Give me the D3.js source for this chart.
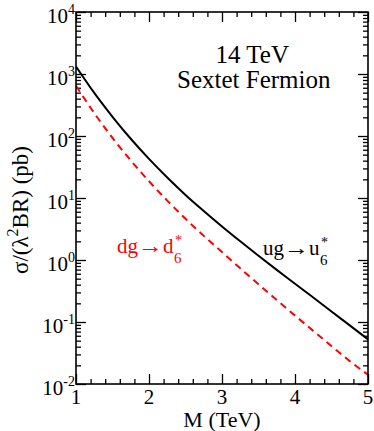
<!DOCTYPE html>
<html>
<head>
<meta charset="utf-8">
<script src="https://cdn.jsdelivr.net/npm/d3@7"></script>
<style>
  body { margin: 0; background: #fff; }
</style>
</head>
<body>
<div id="graph"></div>
<script>
// resonance mass (TeV)
const massTeV = [1.0, 1.25, 1.5, 1.75, 2.0, 2.25, 2.5, 2.75, 3.0,
                 3.25, 3.5, 3.75, 4.0, 4.25, 4.5, 4.75, 5.0];
// sigma/(lambda^2 BR) in pb, ug -> u6*
const sigmaUG = [1320, 495, 204, 90.2, 42.7, 21.4, 11.2, 6.17, 3.47,
                 2.00, 1.17, 0.692, 0.415, 0.248, 0.148, 0.0881, 0.0525];
// sigma/(lambda^2 BR) in pb, dg -> d6*
const sigmaDG = [646, 234, 93.3, 40.3, 18.6, 9.06, 4.62, 2.45, 1.34,
                 0.733, 0.405, 0.226, 0.127, 0.0719, 0.0409, 0.0234, 0.0141];

const xTickValues = [1, 2, 3, 4, 5];
const xMinorValues = [1.2, 1.4, 1.6, 1.8, 2.2, 2.4, 2.6, 2.8, 3.2, 3.4, 3.6, 3.8, 4.2, 4.4, 4.6, 4.8];
const yExponents = [-2, -1, 0, 1, 2, 3, 4];

const W = 374, H = 431;
const m = {top: 12, right: 6, bottom: 47, left: 76};
const serif = '"Liberation Serif", "Times New Roman", Times, "DejaVu Serif", serif';

const svg = d3.select('#graph').append('svg')
  .attr('width', W)
  .attr('height', H)
  .attr('font-family', serif)
  .style('font-family', serif);

const x = d3.scaleLinear()
  .domain([1, 5])
  .range([m.left, W - m.right]);

const y = d3.scaleLog()
  .domain([1e-2, 1e4])
  .range([H - m.bottom, m.top]);

const yMajor = yExponents.map((e) => Math.pow(10, e));
const yMinor = [];
yExponents.slice(0, -1).forEach((e) => {
  for (let k = 2; k <= 9; k++) yMinor.push(k * Math.pow(10, e));
});

// ticks on all four sides, pointing inward
function addTicks(axisFn, scale, values, size, transform) {
  svg.append('g')
    .attr('class', 'ticks')
    .attr('transform', transform)
    .call(axisFn(scale).tickValues(values).tickSize(size).tickFormat(''))
    .call((g) => g.select('.domain').remove())
    .call((g) => g.selectAll('line').attr('stroke', '#000').attr('stroke-width', 1.3));
}

const x0 = m.left, x1 = W - m.right, y0 = H - m.bottom, y1 = m.top;

addTicks(d3.axisBottom, x, xTickValues, -10, `translate(0,${y0})`);
addTicks(d3.axisBottom, x, xMinorValues, -5, `translate(0,${y0})`);
addTicks(d3.axisTop, x, xTickValues, -10, `translate(0,${y1})`);
addTicks(d3.axisTop, x, xMinorValues, -5, `translate(0,${y1})`);
addTicks(d3.axisLeft, y, yMajor, -10, `translate(${x0},0)`);
addTicks(d3.axisLeft, y, yMinor, -5, `translate(${x0},0)`);
addTicks(d3.axisRight, y, yMajor, -10, `translate(${x1},0)`);
addTicks(d3.axisRight, y, yMinor, -5, `translate(${x1},0)`);

// curves
const data = (vals) => massTeV.map((mv, i) => ({m: mv, s: vals[i]}));
const line = d3.line()
  .x((d) => x(d.m))
  .y((d) => y(d.s))
  .curve(d3.curveMonotoneX);

svg.append('clipPath').attr('id', 'plot-clip')
  .append('rect')
  .attr('x', x0).attr('y', y1)
  .attr('width', x1 - x0).attr('height', y0 - y1);

svg.append('path')
  .datum(data(sigmaDG))
  .attr('clip-path', 'url(#plot-clip)')
  .attr('d', line)
  .attr('fill', 'none')
  .attr('stroke', '#ff0000')
  .attr('stroke-width', 2)
  .attr('stroke-dasharray', '7,5');

svg.append('path')
  .datum(data(sigmaUG))
  .attr('clip-path', 'url(#plot-clip)')
  .attr('d', line)
  .attr('fill', 'none')
  .attr('stroke', '#000')
  .attr('stroke-width', 2);

// frame
svg.append('rect')
  .attr('x', x0).attr('y', y1)
  .attr('width', x1 - x0).attr('height', y0 - y1)
  .attr('fill', 'none')
  .attr('stroke', '#000')
  .attr('stroke-width', 1.6);

// x tick labels
svg.append('g').selectAll('text')
  .data(xTickValues)
  .enter().append('text')
  .attr('x', (d) => x(d))
  .attr('y', y0 + 20)
  .attr('text-anchor', 'middle')
  .style('font-size', '21px')
  .text((d) => d);

// y tick labels 10^e
const yLab = svg.append('g').selectAll('text')
  .data(yExponents)
  .enter().append('text')
  .attr('x', x0 - 1)
  .attr('y', (d) => y(Math.pow(10, d)) + 11)
  .attr('text-anchor', 'end')
  .style('font-size', '21px');
yLab.append('tspan').text('10');
yLab.append('tspan')
  .attr('dy', -9)
  .style('font-size', '14px')
  .text((d) => d < 0 ? '-' + (-d) : d);

// axis titles
svg.append('text')
  .attr('x', (x0 + x1) / 2)
  .attr('y', H - 4)
  .attr('text-anchor', 'middle')
  .style('font-size', '22px')
  .text('M (TeV)');

const yTitle = svg.append('text')
  .attr('transform', `translate(28,${(y0 + y1) / 2 + 12}) rotate(-90)`)
  .attr('text-anchor', 'middle')
  .style('font-size', '23px');
yTitle.append('tspan').text('σ/(λ');
yTitle.append('tspan').attr('dy', -10).style('font-size', '16px').text('2');
yTitle.append('tspan').attr('dy', 10).text('BR) (pb)');

// annotation
svg.append('text')
  .attr('x', 289).attr('y', 63)
  .attr('text-anchor', 'end')
  .style('font-size', '25px')
  .text('14 TeV');
svg.append('text')
  .attr('x', 177).attr('y', 88)
  .style('font-size', '25px')
  .text('Sextet Fermion');

function processLabel(xp, yp, initial, final, color) {
  const t = svg.append('text')
    .attr('x', xp).attr('y', yp)
    .style('font-size', '21px')
    .style('fill', color);
  t.append('tspan').text(initial);
  t.append('tspan')
    .attr('textLength', 25)
    .attr('lengthAdjust', 'spacingAndGlyphs')
    .text('→');
  t.append('tspan').text(final);
  const len = t.node().getBBox().width;
  svg.append('text')
    .attr('x', xp + len + 1).attr('y', yp - 8)
    .style('font-size', '14px')
    .style('fill', color)
    .text('*');
  svg.append('text')
    .attr('x', xp + len).attr('y', yp + 10)
    .style('font-size', '15px')
    .style('fill', color)
    .text('6');
}

processLabel(117, 253, 'dg', 'd', '#ff0000');
processLabel(263, 255, 'ug', 'u', '#000');
</script>
</body>
</html>
